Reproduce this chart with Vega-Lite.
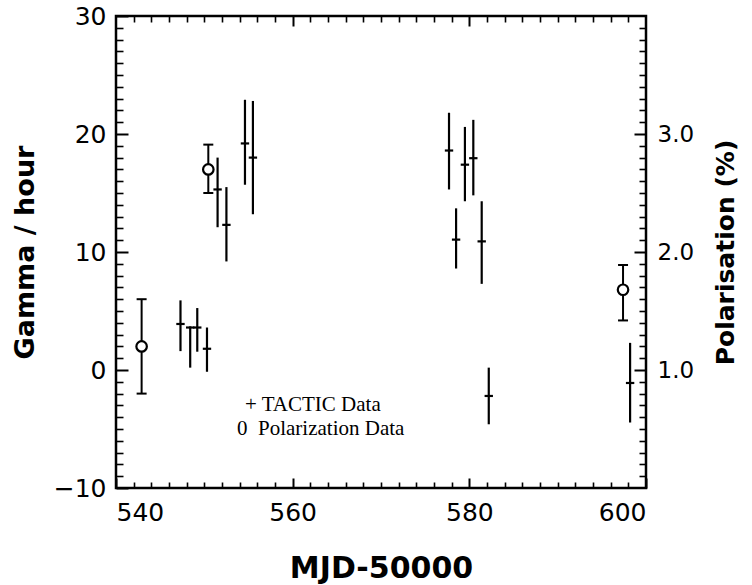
{
  "$schema": "https://vega.github.io/schema/vega-lite/v6.json",
  "width": 530,
  "height": 472,
  "autosize": {"type": "none"},
  "padding": {"left": 116, "top": 16, "right": 106, "bottom": 97},
  "background": "white",
  "config": {
    "view": {"stroke": "black", "strokeWidth": 2.5},
    "axis": {
      "domain": false,
      "grid": false,
      "labelColor": "black",
      "titleColor": "black",
      "labelFont": "DejaVu Sans",
      "labelFontSize": 25,
      "titleFont": "DejaVu Sans",
      "titleFontSize": 27,
      "titleFontWeight": "bold"
    }
  },
  "datasets": {
    "tactic": [
      {"mjd": 547.3, "gamma": 3.9, "lo": 1.6, "hi": 5.9},
      {"mjd": 548.4, "gamma": 3.6, "lo": 0.2, "hi": 3.7},
      {"mjd": 549.2, "gamma": 3.6, "lo": 1.55, "hi": 5.25},
      {"mjd": 550.3, "gamma": 1.8, "lo": -0.15, "hi": 3.6},
      {"mjd": 551.5, "gamma": 15.3, "lo": 12.1, "hi": 18.0},
      {"mjd": 552.5, "gamma": 12.3, "lo": 9.2, "hi": 15.5},
      {"mjd": 554.6, "gamma": 19.2, "lo": 15.7, "hi": 22.9},
      {"mjd": 555.5, "gamma": 18.0, "lo": 13.2, "hi": 22.8},
      {"mjd": 577.7, "gamma": 18.6, "lo": 15.3, "hi": 21.8},
      {"mjd": 578.5, "gamma": 11.05, "lo": 8.6, "hi": 13.7},
      {"mjd": 579.5, "gamma": 17.4, "lo": 14.3, "hi": 20.6},
      {"mjd": 580.45, "gamma": 17.95, "lo": 14.8, "hi": 21.2},
      {"mjd": 581.4, "gamma": 10.9, "lo": 7.3, "hi": 14.3},
      {"mjd": 582.2, "gamma": -2.2, "lo": -4.6, "hi": 0.2},
      {"mjd": 598.2, "gamma": -1.1, "lo": -4.45, "hi": 2.3}
    ],
    "pol": [
      {"mjd": 542.9, "pol": 1.2, "lo": 0.8, "hi": 1.6},
      {"mjd": 550.45, "pol": 2.7, "lo": 2.5, "hi": 2.91},
      {"mjd": 597.4, "pol": 1.68, "lo": 1.42, "hi": 1.89}
    ],
    "legend": [
      {"label": "+ TACTIC Data", "lx": 554.6, "ly": -3.5},
      {"label": "0\u00a0\u00a0Polarization Data", "lx": 553.7, "ly": -5.5}
    ]
  },
  "resolve": {
    "scale": {"y": "independent"},
    "axis": {"x": "independent", "y": "independent"}
  },
  "layer": [
    {
      "data": {"name": "tactic"},
      "mark": {"type": "rule", "stroke": "black", "strokeWidth": 2.2},
      "encoding": {
        "x": {
          "field": "mjd", "type": "quantitative",
          "scale": {"domain": [540, 600], "nice": false, "zero": false},
          "axis": {"orient": "bottom", "values": [540, 560, 580, 600], "ticks": true, "tickColor": "black", "tickSize": -10, "tickWidth": 2, "labelPadding": 22, "title": "MJD-50000", "titleFontSize": 30, "titlePadding": 28}
        },
        "y": {
          "field": "lo", "type": "quantitative",
          "scale": {"domain": [-10, 30], "nice": false, "zero": false},
          "axis": {"orient": "left", "values": [-10, 0, 10, 20, 30], "ticks": true, "tickColor": "black", "tickSize": -12, "tickWidth": 2, "labelPadding": 22, "title": "Gamma / hour", "titlePadding": 14}
        },
        "y2": {"field": "hi"}
      }
    },
    {
      "data": {"name": "tactic"},
      "mark": {"type": "point", "shape": "stroke", "size": 70, "stroke": "black", "strokeWidth": 2.2, "filled": false, "opacity": 1},
      "encoding": {
        "x": {"field": "mjd", "type": "quantitative", "scale": {"domain": [540, 600], "nice": false, "zero": false}, "axis": null},
        "y": {"field": "gamma", "type": "quantitative", "scale": {"domain": [-10, 30], "nice": false, "zero": false}, "axis": null}
      }
    },
    {
      "data": {"name": "tactic"},
      "mark": {"type": "point", "opacity": 0},
      "encoding": {
        "x": {
          "field": "mjd", "type": "quantitative",
          "scale": {"domain": [540, 600], "nice": false, "zero": false},
          "axis": {"orient": "bottom", "values": [542, 544, 546, 548, 550, 552, 554, 556, 558, 562, 564, 566, 568, 570, 572, 574, 576, 578, 582, 584, 586, 588, 590, 592, 594, 596, 598], "labels": false, "ticks": true, "tickColor": "black", "tickSize": -6, "tickWidth": 1.6, "title": null}
        },
        "y": {
          "field": "gamma", "type": "quantitative",
          "scale": {"domain": [-10, 30], "nice": false, "zero": false},
          "axis": {"orient": "left", "values": [-9, -8, -7, -6, -5, -4, -3, -2, -1, 1, 2, 3, 4, 5, 6, 7, 8, 9, 11, 12, 13, 14, 15, 16, 17, 18, 19, 21, 22, 23, 24, 25, 26, 27, 28, 29], "labels": false, "ticks": true, "tickColor": "black", "tickSize": -7, "tickWidth": 1.6, "title": null}
        }
      }
    },
    {
      "data": {"name": "tactic"},
      "mark": {"type": "point", "opacity": 0},
      "encoding": {
        "x": {
          "field": "mjd", "type": "quantitative",
          "scale": {"domain": [540, 600], "nice": false, "zero": false},
          "axis": {"orient": "top", "values": [560, 580], "labels": false, "ticks": true, "tickColor": "black", "tickSize": -10, "tickWidth": 2, "title": null}
        },
        "y": {"field": "gamma", "type": "quantitative", "scale": {"domain": [-10, 30], "nice": false, "zero": false}, "axis": null}
      }
    },
    {
      "data": {"name": "tactic"},
      "mark": {"type": "point", "opacity": 0},
      "encoding": {
        "x": {
          "field": "mjd", "type": "quantitative",
          "scale": {"domain": [540, 600], "nice": false, "zero": false},
          "axis": {"orient": "top", "values": [542, 544, 546, 548, 550, 552, 554, 556, 558, 562, 564, 566, 568, 570, 572, 574, 576, 578, 582, 584, 586, 588, 590, 592, 594, 596, 598], "labels": false, "ticks": true, "tickColor": "black", "tickSize": -6, "tickWidth": 1.6, "title": null}
        },
        "y": {"field": "gamma", "type": "quantitative", "scale": {"domain": [-10, 30], "nice": false, "zero": false}, "axis": null}
      }
    },
    {
      "data": {"name": "pol"},
      "mark": {"type": "rule", "stroke": "black", "strokeWidth": 2},
      "encoding": {
        "x": {"field": "mjd", "type": "quantitative", "scale": {"domain": [540, 600], "nice": false, "zero": false}, "axis": null},
        "y": {
          "field": "lo", "type": "quantitative",
          "scale": {"domain": [0, 4], "nice": false, "zero": false},
          "axis": {"orient": "right", "values": [1, 2, 3], "format": ".1f", "ticks": true, "tickColor": "black", "tickSize": -12, "tickWidth": 2, "labelPadding": 23, "labelFontSize": 23, "title": "Polarisation  (%)", "titleFontSize": 25, "titleAngle": 270, "titleBaseline": "top", "titlePadding": 20}
        },
        "y2": {"field": "hi"}
      }
    },
    {
      "data": {"name": "pol"},
      "mark": {"type": "point", "shape": "stroke", "size": 100, "stroke": "black", "strokeWidth": 2, "filled": false, "opacity": 1},
      "encoding": {
        "x": {"field": "mjd", "type": "quantitative", "scale": {"domain": [540, 600], "nice": false, "zero": false}, "axis": null},
        "y": {"field": "lo", "type": "quantitative", "scale": {"domain": [0, 4], "nice": false, "zero": false}, "axis": null}
      }
    },
    {
      "data": {"name": "pol"},
      "mark": {"type": "point", "shape": "stroke", "size": 100, "stroke": "black", "strokeWidth": 2, "filled": false, "opacity": 1},
      "encoding": {
        "x": {"field": "mjd", "type": "quantitative", "scale": {"domain": [540, 600], "nice": false, "zero": false}, "axis": null},
        "y": {"field": "hi", "type": "quantitative", "scale": {"domain": [0, 4], "nice": false, "zero": false}, "axis": null}
      }
    },
    {
      "data": {"name": "pol"},
      "mark": {"type": "point", "shape": "circle", "size": 110, "fill": "white", "stroke": "black", "strokeWidth": 2.2, "filled": true, "opacity": 1},
      "encoding": {
        "x": {"field": "mjd", "type": "quantitative", "scale": {"domain": [540, 600], "nice": false, "zero": false}, "axis": null},
        "y": {
          "field": "pol", "type": "quantitative",
          "scale": {"domain": [0, 4], "nice": false, "zero": false},
          "axis": {"orient": "right", "values": [0.1, 0.2, 0.3, 0.4, 0.5, 0.6, 0.7, 0.8, 0.9, 1.1, 1.2, 1.3, 1.4, 1.5, 1.6, 1.7, 1.8, 1.9, 2.1, 2.2, 2.3, 2.4, 2.5, 2.6, 2.7, 2.8, 2.9, 3.1, 3.2, 3.3, 3.4, 3.5, 3.6, 3.7, 3.8, 3.9], "labels": false, "ticks": true, "tickColor": "black", "tickSize": -7, "tickWidth": 1.6, "title": null}
        }
      }
    },
    {
      "data": {"name": "legend"},
      "mark": {"type": "text", "font": "Liberation Serif", "fontSize": 21, "align": "left", "baseline": "alphabetic", "color": "black"},
      "encoding": {
        "x": {"field": "lx", "type": "quantitative", "scale": {"domain": [540, 600], "nice": false, "zero": false}, "axis": null},
        "y": {"field": "ly", "type": "quantitative", "scale": {"domain": [-10, 30], "nice": false, "zero": false}, "axis": null},
        "text": {"field": "label"}
      }
    }
  ]
}
